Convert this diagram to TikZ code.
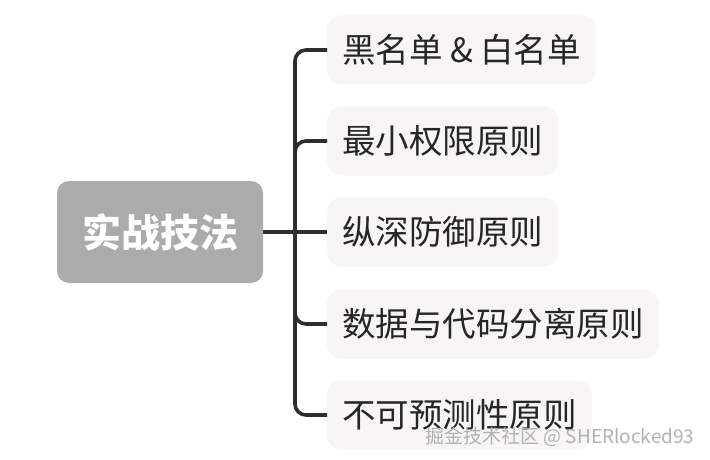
\documentclass[tikz,border=0pt]{standalone}
\usepackage{fontspec}
\setmainfont{Noto Sans CJK SC}
\definecolor{rootgray}{HTML}{ABABAB}
\definecolor{leafgray}{HTML}{F7F5F5}
\definecolor{linegray}{HTML}{2E2E2E}
\tikzset{
  rootbox/.style={rounded corners=12pt,fill=rootgray,text=white,font=\fontsize{39}{41}\selectfont\bfseries,
    minimum width=206pt,minimum height=102pt,inner sep=0pt},
  leafbox/.style={rounded corners=14pt,fill=leafgray,text=black!85,font=\fontsize{33.5}{36}\selectfont,
    anchor=west,minimum height=69pt,inner xsep=15pt,inner ysep=0pt},
  conn/.style={draw=linegray,line width=3.6pt,rounded corners=11pt}
}
\begin{document}
\begin{tikzpicture}[x=1pt,y=-1pt]
  \useasboundingbox[fill=white] (0,0) rectangle (710,460);
  \node[rootbox] (root) at (160,232) {实战技法};
  \node[leafbox] (c1) at (327,50) {黑名单 \& 白名单};
  \node[leafbox] (c2) at (327,141) {最小权限原则};
  \node[leafbox] (c3) at (327,232) {纵深防御原则};
  \node[leafbox] (c4) at (327,324) {数据与代码分离原则};
  \node[leafbox] (c5) at (327,415) {不可预测性原则};
  \coordinate (spine) at (295,232);
  \draw[conn] (c1.west) -| (spine) |- (c5.west);
  \draw[conn] (spine) |- (c2.west) (spine) |- (c4.west);
  \draw[conn] (root.east) -- (c3.west);
  \node[text=gray!60,font=\fontsize{19}{20}\selectfont,anchor=east] (mark) at (698,437) {掘金技术社区 @ SHERlocked93};
\end{tikzpicture}
\end{document}
